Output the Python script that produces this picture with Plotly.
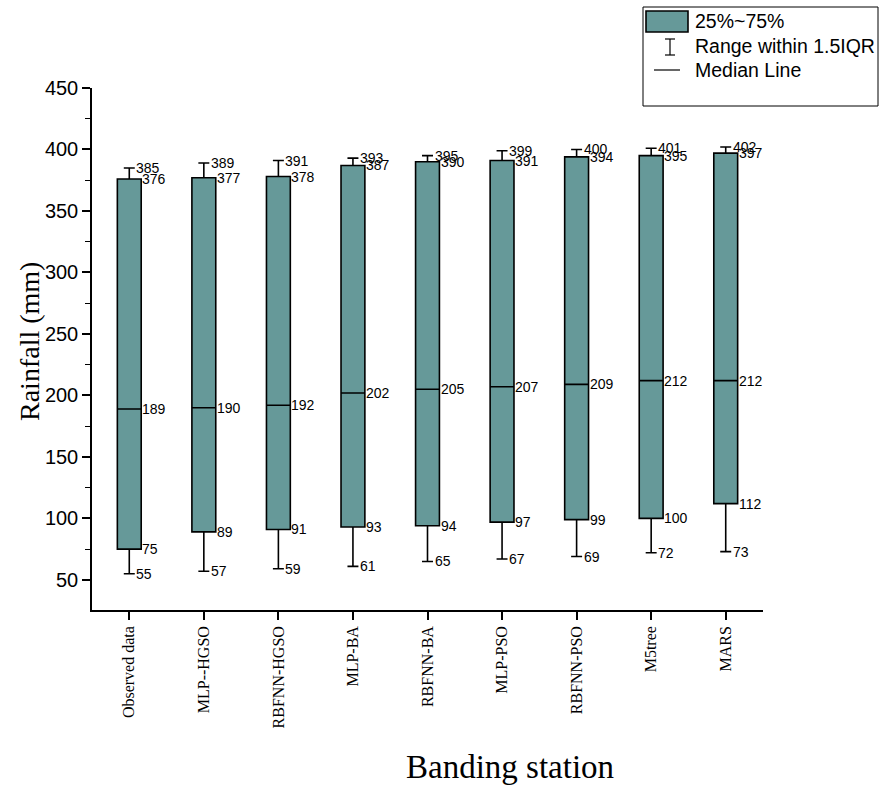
import plotly.graph_objects as go

categories = ["Observed data", "MLP--HGSO", "RBFNN-HGSO", "MLP-BA", "RBFNN-BA",
              "MLP-PSO", "RBFNN-PSO", "M5tree", "MARS"]
lower_whisker = [55, 57, 59, 61, 65, 67, 69, 72, 73]
q1_values = [75, 89, 91, 93, 94, 97, 99, 100, 112]
median_values = [189, 190, 192, 202, 205, 207, 209, 212, 212]
q3_values = [376, 377, 378, 387, 390, 391, 394, 395, 397]
upper_whisker = [385, 389, 391, 393, 395, 399, 400, 401, 402]

W, H = 879, 787
L, R, T, B = 92, 763, 88, 610
FILL = "#669999"
SANS = "Liberation Sans, Arial, sans-serif"
SERIF = "Liberation Serif, Times New Roman, serif"

fig = go.Figure()
fig.add_trace(go.Box(
    x=categories,
    q1=q1_values, median=median_values, q3=q3_values,
    lowerfence=lower_whisker, upperfence=upper_whisker,
    fillcolor=FILL, line=dict(color="black", width=1.6),
    width=0.32, whiskerwidth=0.46, boxpoints=False, showlegend=False,
    hoverinfo="skip",
))

anns = []
def lab(cat, val, shift):
    anns.append(dict(x=cat, y=val, xref="x", yref="y", text=str(val),
                     showarrow=False, xanchor="left", yanchor="middle",
                     xshift=shift, font=dict(family=SANS, size=14, color="black")))

for i, c in enumerate(categories):
    lab(c, upper_whisker[i], 5)
    lab(c, q3_values[i], 11)
    lab(c, median_values[i], 11)
    lab(c, q1_values[i], 11)
    lab(c, lower_whisker[i], 5)

def px(x):
    return (x - L) / (R - L)

def py(y):
    return (B - y) / (B - T)

# axis titles
anns.append(dict(x=px(29), y=py(342), xref="paper", yref="paper", text="Rainfall (mm)",
                 showarrow=False, textangle=-90, xanchor="center", yanchor="middle",
                 font=dict(family=SERIF, size=28, color="black")))
anns.append(dict(x=px(510), y=py(767), xref="paper", yref="paper", text="Banding station",
                 showarrow=False, xanchor="center", yanchor="middle",
                 font=dict(family=SERIF, size=33, color="black")))

# legend texts
for txt, yy in [("25%~75%", 21), ("Range within 1.5IQR", 46), ("Median Line", 70)]:
    anns.append(dict(x=px(693), y=py(yy), xref="paper", yref="paper", text=txt,
                     showarrow=False, xanchor="left", yanchor="middle",
                     font=dict(family=SANS, size=19.5, color="black")))

shapes = [
    dict(type="rect", xref="paper", yref="paper", x0=px(643), x1=px(878), y0=py(106), y1=py(7),
         line=dict(color="black", width=1), fillcolor="rgba(0,0,0,0)"),
    dict(type="rect", xref="paper", yref="paper", x0=px(646), x1=px(688), y0=py(32), y1=py(11),
         line=dict(color="black", width=1.6), fillcolor=FILL),
    dict(type="line", xref="paper", yref="paper", x0=px(670), x1=px(670), y0=py(55), y1=py(39),
         line=dict(color="black", width=1.2)),
    dict(type="line", xref="paper", yref="paper", x0=px(665), x1=px(675), y0=py(39), y1=py(39),
         line=dict(color="black", width=1.2)),
    dict(type="line", xref="paper", yref="paper", x0=px(665), x1=px(675), y0=py(55), y1=py(55),
         line=dict(color="black", width=1.2)),
    dict(type="line", xref="paper", yref="paper", x0=px(654), x1=px(680), y0=py(70), y1=py(70),
         line=dict(color="black", width=1.2)),
]

fig.update_layout(
    width=W, height=H,
    margin=dict(l=L, r=W - R, t=T, b=H - B, pad=0),
    paper_bgcolor="white", plot_bgcolor="white",
    annotations=anns, shapes=shapes, showlegend=False,
    xaxis=dict(
        type="category", range=[-0.5, 8.5], showline=True, linecolor="black", linewidth=1.5,
        ticks="outside", ticklen=8, tickwidth=1.5, tickcolor="black", tickangle=-90,
        tickfont=dict(family=SERIF, size=16, color="black"), showgrid=False, zeroline=False,
    ),
    yaxis=dict(
        range=[25.5, 450], showline=True, linecolor="black", linewidth=1.5,
        ticks="outside", ticklen=8, tickwidth=1.5, tickcolor="black",
        tick0=0, dtick=50, tickfont=dict(family=SANS, size=20, color="black"),
        showgrid=False, zeroline=False,
        minor=dict(ticks="outside", ticklen=5, tickwidth=1.2, tickcolor="black", dtick=25, tick0=0, showgrid=False),
    ),
)

fig.write_html("out.html", config={"displayModeBar": False},
               post_script="document.body.style.margin='0';document.body.style.overflow='hidden';")
